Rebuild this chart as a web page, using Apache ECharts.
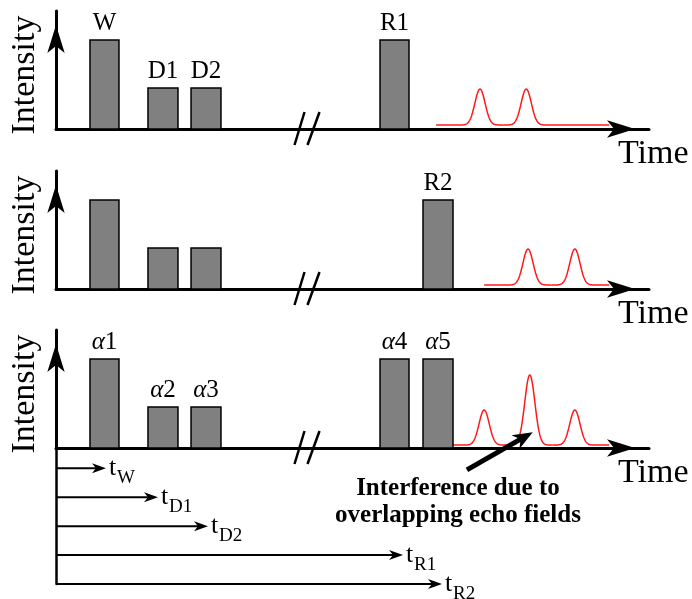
<!DOCTYPE html>
<html><head><meta charset="utf-8">
<script src="https://cdn.jsdelivr.net/npm/echarts@6/dist/echarts.min.js"></script>
<style>html,body{margin:0;padding:0;background:#fff}#c{width:692px;height:599px}</style>
</head><body><div id="c"></div>
<script>
// ---- Data (time axis 0..100, intensity axis 0..100) ----
const panel1Start = [5.73, 15.51, 22.77, 54.64];
const panel1End = [10.62, 20.57, 27.82, 59.53];
const panel1Height = [75.4, 34.7, 34.7, 75.4];
const panel1Labels = ['W', 'D1', 'D2', 'R1'];

const panel2Start = [5.73, 15.51, 22.77, 61.89];
const panel2End = [10.62, 20.57, 27.82, 66.95];
const panel2Height = [75.4, 34.7, 34.7, 75.4];
const panel2Labels = ['', '', '', 'R2'];

const panel3Start = [5.73, 15.51, 22.77, 54.64, 61.89];
const panel3End = [10.62, 20.57, 27.82, 59.53, 66.95];
const panel3Height = [75.4, 34.7, 34.7, 75.4, 75.4];
const panel3Labels = ['α1', 'α2', 'α3', 'α4', 'α5'];

const echo1Range = [64.1, 93.3];
const echo1Peaks = [71.5, 79.3];
const echo1Heights = [33.9, 33.9];
const echo2Range = [72.2, 93.3];
const echo2Peaks = [79.6, 87.5];
const echo2Heights = [33.9, 33.9];
const echo3Range = [67.0, 93.3];
const echo3Peaks = [72.2, 79.9, 87.5];
const echo3Heights = [32.2, 61.9, 32.2];
const echoBase = [3.4, 3.4, 2.5];

const breakAt = 42.33;

const timeLabels = ['W', 'D1', 'D2', 'R1', 'R2'];
const timeTips = [8.43, 17.2, 25.63, 58.52, 65.09];
const timeRows = [4, 3, 2, 1, 0];

const noteArrow = [69.3, -18.5, 80.4, 13.4];
const noteText = ['Interference due to', 'overlapping echo fields'];

const xName = 'Time';
const yName = 'Intensity';

// ---- Chart ----
const FONT = 'Liberation Serif';
const chart = echarts.init(document.getElementById('c'), null, {renderer: 'canvas'});

const panelTops = [11, 171, 330];
const grids = panelTops.map(t => ({left: 56, width: 593, top: t, height: 118, containLabel: false, outerBoundsMode: 'none'}));
grids.push({left: 56, width: 593, top: 448, height: 136, containLabel: false, outerBoundsMode: 'none'});

const xAxes = [0, 1, 2].map(i => ({
  type: 'value', gridIndex: i, min: 0, max: 100,
  axisLine: {show: true, onZero: false, symbol: ['none', 'arrow'], symbolSize: [13, 28], symbolOffset: [0, -14],
    lineStyle: {color: '#000', width: 3}},
  axisTick: {show: false}, axisLabel: {show: false}, splitLine: {show: false},
  name: xName, nameLocation: 'end', nameGap: -31,
  nameTextStyle: {fontFamily: FONT, fontSize: 34, color: '#000', verticalAlign: 'top', lineHeight: 50}
}));
xAxes.push({type: 'value', gridIndex: 3, min: 0, max: 100, show: false});

const yAxes = [0, 1, 2].map(i => ({
  type: 'value', gridIndex: i, min: 0, max: 100,
  axisLine: {show: true, onZero: false, symbol: ['none', 'arrow'], symbolSize: [13, 28], symbolOffset: [0, -14],
    lineStyle: {color: '#000', width: 3}},
  axisTick: {show: false}, axisLabel: {show: false}, splitLine: {show: false},
  name: yName, nameLocation: 'middle', nameGap: 14, nameRotate: 90,
  nameTextStyle: {fontFamily: FONT, fontSize: 34, color: '#000', padding: [0, 10, 0, 0]}
}));
yAxes.push({
  type: 'value', gridIndex: 3, min: 0, max: 4.7,
  axisLine: {show: true, onZero: false, lineStyle: {color: '#000', width: 2.5}},
  axisTick: {show: false}, axisLabel: {show: false}, splitLine: {show: false}
});

function barSeries(idx, starts, ends, heights, labels) {
  return {
    type: 'custom', xAxisIndex: idx, yAxisIndex: idx, clip: false, z: 5,
    data: starts.map((s, i) => [s, ends[i], heights[i]]),
    encode: {x: [0, 1], y: 2},
    renderItem: function (params, api) {
      const i = params.dataIndex;
      const p0 = api.coord([api.value(0), api.value(2)]);
      const p1 = api.coord([api.value(1), 0]);
      const children = [{
        type: 'rect',
        shape: {x: p0[0], y: p0[1], width: p1[0] - p0[0], height: p1[1] - p0[1]},
        style: {fill: '#808080', stroke: '#000', lineWidth: 1.5}
      }];
      const lab = labels[i];
      if (lab) {
        let text = lab;
        if (lab[0] === 'α') text = '{g|α}{n|' + lab.slice(1) + '}';
        children.push({
          type: 'text', x: (p0[0] + p1[0]) / 2, y: p0[1] - 17,
          style: {
            text: text, fontFamily: FONT, fontSize: 25, fill: '#000', align: 'center', verticalAlign: 'middle',
            rich: {
              g: {fontFamily: FONT, fontStyle: 'italic', fontSize: 25, fill: '#000'},
              n: {fontFamily: FONT, fontSize: 25, fill: '#000'}
            }
          }
        });
      }
      return {type: 'group', children: children};
    }
  };
}

function echoSeries(idx, range, peaks, heights, base) {
  const bounds = [range[0]];
  for (let i = 0; i < peaks.length - 1; i++) bounds.push((peaks[i] + peaks[i + 1]) / 2);
  bounds.push(range[1]);
  return {
    type: 'custom', xAxisIndex: idx, yAxisIndex: idx, clip: false, z: 4,
    data: peaks.map((c, i) => [c, heights[i], bounds[i], bounds[i + 1]]),
    encode: {x: [0, 2, 3], y: 1},
    renderItem: function (params, api) {
      const c = api.value(0), h = api.value(1), a = api.value(2), b = api.value(3);
      const pa = api.coord([a, base]);
      const pb = api.coord([b, base]);
      const pc = api.coord([c, h]);
      const sigma = 5.1;
      const pts = [];
      for (let x = pa[0]; x < pb[0]; x += 0.5) {
        const t = (x - pc[0]) / sigma;
        pts.push([x, pa[1] + (pc[1] - pa[1]) * Math.exp(-t * t / 2)]);
      }
      const t = (pb[0] - pc[0]) / sigma;
      pts.push([pb[0], pa[1] + (pc[1] - pa[1]) * Math.exp(-t * t / 2)]);
      return {type: 'polyline', shape: {points: pts}, style: {stroke: '#ff1a1a', lineWidth: 1.5, fill: null}};
    }
  };
}

function breakSeries(idx) {
  return {
    type: 'custom', xAxisIndex: idx, yAxisIndex: idx, clip: false, z: 6,
    data: [[breakAt, 0]],
    renderItem: function (params, api) {
      const p = api.coord([api.value(0), api.value(1)]);
      const st = {stroke: '#000', lineWidth: 2.5};
      return {type: 'group', children: [
        {type: 'line', shape: {x1: p[0] - 12.5, y1: p[1] + 16, x2: p[0] - 2.5, y2: p[1] - 17}, style: st},
        {type: 'line', shape: {x1: p[0] + 0.5, y1: p[1] + 16, x2: p[0] + 12.5, y2: p[1] - 17}, style: st}
      ]};
    }
  };
}

const timelineSeries = {
  type: 'custom', xAxisIndex: 3, yAxisIndex: 3, clip: false, z: 5,
  data: timeTips.map((t, i) => [t, timeRows[i]]),
  encode: {x: 0, y: 1},
  renderItem: function (params, api) {
    const i = params.dataIndex;
    const p0 = api.coord([0, api.value(1)]);
    const p1 = api.coord([api.value(0), api.value(1)]);
    const x = p1[0], y = p1[1];
    return {type: 'group', children: [
      {type: 'line', shape: {x1: p0[0], y1: y, x2: x - 8, y2: y}, style: {stroke: '#000', lineWidth: 2}},
      {type: 'polygon', shape: {points: [[x, y], [x - 14, y - 5], [x - 10, y], [x - 14, y + 5]]}, style: {fill: '#000'}},
      {type: 'text', x: x + 3, y: y, style: {text: 't', fontFamily: FONT, fontSize: 26, fill: '#000', align: 'left', verticalAlign: 'middle'}},
      {type: 'text', x: x + 11, y: y + 10, style: {text: timeLabels[i], fontFamily: FONT, fontSize: 19, fill: '#000', align: 'left', verticalAlign: 'middle'}}
    ]};
  }
};

const noteSeries = {
  type: 'custom', xAxisIndex: 2, yAxisIndex: 2, clip: false, z: 7,
  data: [noteArrow],
  encode: {x: [0, 2], y: [1, 3]},
  renderItem: function (params, api) {
    const a = api.coord([api.value(0), api.value(1)]);
    const b = api.coord([api.value(2), api.value(3)]);
    const dx = b[0] - a[0], dy = b[1] - a[1];
    const L = Math.sqrt(dx * dx + dy * dy);
    const ux = dx / L, uy = dy / L, nx = -uy, ny = ux;
    const hl = 20, hw = 8, notch = 14;
    const back = [b[0] - ux * hl, b[1] - uy * hl];
    const mid = [b[0] - ux * notch, b[1] - uy * notch];
    return {type: 'group', children: [
      {type: 'line', shape: {x1: a[0], y1: a[1], x2: mid[0] + ux * 2, y2: mid[1] + uy * 2}, style: {stroke: '#000', lineWidth: 5}},
      {type: 'polygon', shape: {points: [b, [back[0] + nx * hw, back[1] + ny * hw], mid, [back[0] - nx * hw, back[1] - ny * hw]]}, style: {fill: '#000'}},
      {type: 'text', x: a[0] - 9, y: a[1] + 5, style: {
        text: noteText.join('\n'), fontFamily: FONT, fontWeight: 'bold', fontSize: 25, lineHeight: 27,
        fill: '#000', align: 'center', verticalAlign: 'top'}}
    ]};
  }
};

const series = [
  barSeries(0, panel1Start, panel1End, panel1Height, panel1Labels),
  barSeries(1, panel2Start, panel2End, panel2Height, panel2Labels),
  barSeries(2, panel3Start, panel3End, panel3Height, panel3Labels),
  echoSeries(0, echo1Range, echo1Peaks, echo1Heights, echoBase[0]),
  echoSeries(1, echo2Range, echo2Peaks, echo2Heights, echoBase[1]),
  echoSeries(2, echo3Range, echo3Peaks, echo3Heights, echoBase[2]),
  breakSeries(0), breakSeries(1), breakSeries(2),
  timelineSeries,
  noteSeries
];

chart.setOption({
  animation: false,
  backgroundColor: '#fff',
  textStyle: {fontFamily: FONT},
  grid: grids,
  xAxis: xAxes,
  yAxis: yAxes,
  series: series
});
</script>
</body></html>
